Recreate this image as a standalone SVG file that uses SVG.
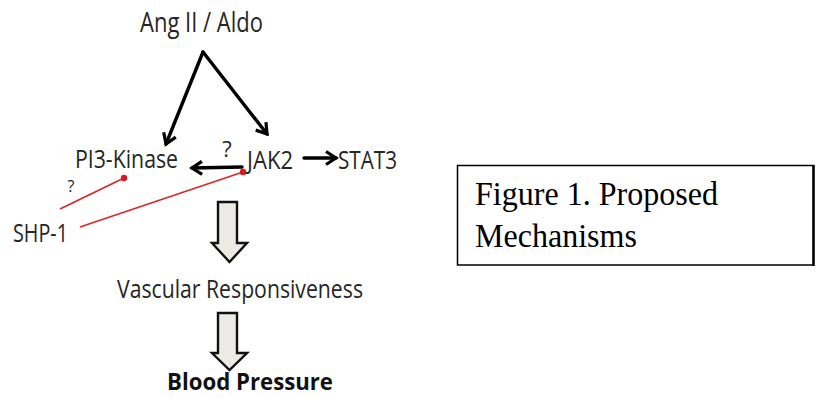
<svg xmlns="http://www.w3.org/2000/svg" width="817" height="398" viewBox="0 0 817 398">
<style>
.t{font-family:"Open Sans","Noto Sans","Liberation Sans",sans-serif;fill:#262626}
.b{font-weight:bold;fill:#111}
.cap{font-family:"Liberation Serif","Times New Roman",serif;font-size:33px;fill:#000}
.blk{stroke:#000;stroke-width:3.4;fill:none;stroke-linecap:round}
.red{stroke:#d42a2a;stroke-width:1.8;fill:none}
.dot{fill:#e0161c}
.hollow{fill:#ebebe3;stroke:#111;stroke-width:2.4;stroke-linejoin:miter}
</style>
<defs>
<marker id="ah" viewBox="0 0 16 16" refX="13" refY="8" markerWidth="16" markerHeight="16" markerUnits="userSpaceOnUse" orient="auto">
<polyline points="3,1.5 13,8 3,14.5" fill="none" stroke="#000" stroke-width="3.2" stroke-linejoin="miter"/>
</marker>
</defs>
<rect width="817" height="398" fill="#fff"/>
<g id="connectors">
<line class="blk" x1="203" y1="52" x2="166" y2="144" marker-end="url(#ah)"/>
<line class="blk" x1="203" y1="52" x2="267" y2="134" marker-end="url(#ah)"/>
<line class="blk" x1="242" y1="167" x2="192" y2="168" marker-end="url(#ah)"/>
<line class="blk" x1="304" y1="158" x2="336" y2="158" marker-end="url(#ah)"/>
<line class="red" x1="60" y1="209" x2="124" y2="178"/>
<circle class="dot" cx="124" cy="178" r="3.2"/>
<line class="red" x1="80" y1="227" x2="243" y2="172"/>
<circle class="dot" cx="243" cy="172" r="3.2"/>
<text class="t" x="227" y="157" font-size="22" text-anchor="middle">?</text>
<text class="t" x="71" y="192" font-size="16" text-anchor="middle">?</text>
<path class="hollow" d="M218,202 H237 V243 H247 L229.5,262 L212,243 H218 Z"/>
<path class="hollow" d="M218,313 H237 V353 H247 L229.5,370 L212,353 H218 Z"/>
</g>
<g id="angii-aldo"><text class="t" x="140" y="32" font-size="27" textLength="123" lengthAdjust="spacingAndGlyphs">Ang II / Aldo</text></g>
<g id="pi3k"><text class="t" x="75" y="168" font-size="25" textLength="103" lengthAdjust="spacingAndGlyphs">PI3-Kinase</text></g>
<g id="jak2"><text class="t" x="247" y="169" font-size="25" textLength="46" lengthAdjust="spacingAndGlyphs">JAK2</text></g>
<g id="stat3"><text class="t" x="338" y="169" font-size="25" textLength="59" lengthAdjust="spacingAndGlyphs">STAT3</text></g>
<g id="shp1"><text class="t" x="13" y="242" font-size="25" textLength="55" lengthAdjust="spacingAndGlyphs">SHP-1</text></g>
<g id="vascular"><text class="t" x="117" y="298" font-size="25" textLength="246" lengthAdjust="spacingAndGlyphs">Vascular Responsiveness</text></g>
<g id="bp"><text class="t b" x="167" y="390" font-size="23" textLength="166" lengthAdjust="spacingAndGlyphs">Blood Pressure</text></g>
<g id="caption">
<rect x="457.5" y="165.5" width="356" height="99.5" fill="#fff" stroke="#000" stroke-width="1.5"/>
<line x1="813.5" y1="165" x2="813.5" y2="266" stroke="#000" stroke-width="2.5"/>
<text class="cap" x="475" y="205" textLength="243" lengthAdjust="spacingAndGlyphs">Figure 1. Proposed</text>
<text class="cap" x="475" y="247" textLength="162" lengthAdjust="spacingAndGlyphs">Mechanisms</text>
</g>
</svg>
